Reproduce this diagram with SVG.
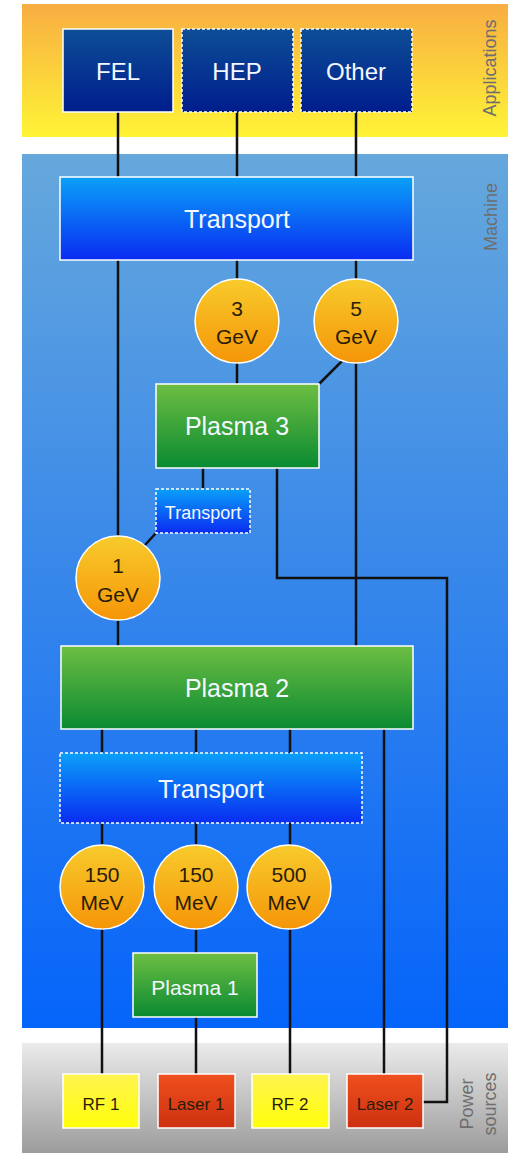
<svg xmlns="http://www.w3.org/2000/svg" width="508" height="1153" viewBox="0 0 508 1153">
  <style>
    .lbl { font-family: "Liberation Sans", Arial, sans-serif; fill: #f4f8ff; text-anchor: middle; }
    .dk { font-family: "Liberation Sans", Arial, sans-serif; fill: #2a1c05; text-anchor: middle; }
    .band { font-family: "Liberation Sans", Arial, sans-serif; fill: #6e6e6e; text-anchor: middle; font-size: 18px; }
    .edge { fill: none; stroke: #111; stroke-width: 2.5; }
    .solid { stroke: #ffffff; stroke-width: 1.5; }
    .dash { stroke: #ffffff; stroke-width: 1.5; stroke-dasharray: 3 2; }
  </style>
  <defs>
    <linearGradient id="gApps" x1="0" y1="0" x2="0" y2="1">
      <stop offset="0" stop-color="#f8ad42"/>
      <stop offset="1" stop-color="#fff436"/>
    </linearGradient>
    <linearGradient id="gMachine" x1="0" y1="0" x2="0" y2="1">
      <stop offset="0" stop-color="#66a8dc"/>
      <stop offset="1" stop-color="#0564fa"/>
    </linearGradient>
    <linearGradient id="gPower" x1="0" y1="0" x2="0" y2="1">
      <stop offset="0" stop-color="#ebebeb"/>
      <stop offset="1" stop-color="#9c9c9c"/>
    </linearGradient>
    <linearGradient id="gNavy" x1="0" y1="0" x2="0" y2="1">
      <stop offset="0" stop-color="#0d4e96"/>
      <stop offset="1" stop-color="#001d8c"/>
    </linearGradient>
    <linearGradient id="gBlue" x1="0" y1="0" x2="0" y2="1">
      <stop offset="0" stop-color="#0aa0f8"/>
      <stop offset="1" stop-color="#0a2cf2"/>
    </linearGradient>
    <linearGradient id="gGreen" x1="0" y1="0" x2="0" y2="1">
      <stop offset="0" stop-color="#6dbe42"/>
      <stop offset="1" stop-color="#0a8a32"/>
    </linearGradient>
    <linearGradient id="gOrange" x1="0" y1="0" x2="0" y2="1">
      <stop offset="0" stop-color="#f8cb2c"/>
      <stop offset="1" stop-color="#f59508"/>
    </linearGradient>
    <linearGradient id="gYellow" x1="0" y1="0" x2="0" y2="1">
      <stop offset="0" stop-color="#fff350"/>
      <stop offset="1" stop-color="#ffff0a"/>
    </linearGradient>
    <linearGradient id="gRed" x1="0" y1="0" x2="0" y2="1">
      <stop offset="0" stop-color="#f0501e"/>
      <stop offset="1" stop-color="#cc3010"/>
    </linearGradient>
  </defs>

  <rect width="508" height="1153" fill="#ffffff"/>

  <!-- layer bands -->
  <g id="bands">
    <rect x="22" y="4" width="486" height="133" fill="url(#gApps)"/>
    <rect x="22" y="154" width="486" height="874" fill="url(#gMachine)"/>
    <rect x="22" y="1043" width="486" height="110" fill="url(#gPower)"/>
    <text class="band" transform="translate(496 68) rotate(-90)">Applications</text>
    <text class="band" transform="translate(497 217) rotate(-90)">Machine</text>
    <text class="band" transform="translate(473 1104) rotate(-90)">Power</text>
    <text class="band" transform="translate(496 1104) rotate(-90)">sources</text>
  </g>

  <!-- connectors -->
  <g id="connectors">
    <line class="edge" x1="118" y1="112" x2="118" y2="536"/>
    <line class="edge" x1="237" y1="112" x2="237" y2="384"/>
    <line class="edge" x1="356" y1="112" x2="356" y2="646"/>
    <line class="edge" x1="342" y1="361" x2="319" y2="384"/>
    <line class="edge" x1="203" y1="468" x2="203" y2="489"/>
    <line class="edge" x1="156" y1="533" x2="145" y2="545"/>
    <polyline class="edge" points="277,468 277,578 447,578 447,1102 423,1102"/>
    <line class="edge" x1="118" y1="620" x2="118" y2="646"/>
    <line class="edge" x1="102" y1="729" x2="102" y2="1074"/>
    <line class="edge" x1="196" y1="729" x2="196" y2="1074"/>
    <line class="edge" x1="290" y1="729" x2="290" y2="1074"/>
    <line class="edge" x1="384" y1="729" x2="384" y2="1074"/>
  </g>

  <!-- applications -->
  <g id="fel">
    <rect class="solid" x="63" y="29" width="110" height="83" fill="url(#gNavy)"/>
    <text class="lbl" x="118" y="80" font-size="24">FEL</text>
  </g>
  <g id="hep">
    <rect class="dash" x="182" y="29" width="111" height="83" fill="url(#gNavy)"/>
    <text class="lbl" x="237" y="80" font-size="24">HEP</text>
  </g>
  <g id="other">
    <rect class="dash" x="301" y="29" width="111" height="83" fill="url(#gNavy)"/>
    <text class="lbl" x="356" y="80" font-size="24">Other</text>
  </g>

  <!-- machine -->
  <g id="transport-top">
    <rect class="solid" x="60" y="177" width="353" height="83" fill="url(#gBlue)"/>
    <text class="lbl" x="237" y="228" font-size="25">Transport</text>
  </g>
  <g id="gev3">
    <circle class="solid" cx="237" cy="321" r="42" fill="url(#gOrange)"/>
    <text class="dk" x="237" y="316" font-size="21">3</text>
    <text class="dk" x="237" y="344" font-size="21">GeV</text>
  </g>
  <g id="gev5">
    <circle class="solid" cx="356" cy="321" r="42" fill="url(#gOrange)"/>
    <text class="dk" x="356" y="316" font-size="21">5</text>
    <text class="dk" x="356" y="344" font-size="21">GeV</text>
  </g>
  <g id="plasma3">
    <rect class="solid" x="156" y="384" width="163" height="84" fill="url(#gGreen)"/>
    <text class="lbl" x="237" y="435" font-size="25">Plasma 3</text>
  </g>
  <g id="transport-small">
    <rect class="dash" x="156" y="489" width="94" height="44" fill="url(#gBlue)"/>
    <text class="lbl" x="203" y="519" font-size="18">Transport</text>
  </g>
  <g id="gev1">
    <circle class="solid" cx="118" cy="578" r="42" fill="url(#gOrange)"/>
    <text class="dk" x="118" y="573" font-size="21">1</text>
    <text class="dk" x="118" y="602" font-size="21">GeV</text>
  </g>
  <g id="plasma2">
    <rect class="solid" x="61" y="646" width="352" height="83" fill="url(#gGreen)"/>
    <text class="lbl" x="237" y="697" font-size="25">Plasma 2</text>
  </g>
  <g id="transport-low">
    <rect class="dash" x="60" y="753" width="302" height="70" fill="url(#gBlue)"/>
    <text class="lbl" x="211" y="798" font-size="25">Transport</text>
  </g>
  <g id="mev150a">
    <circle class="solid" cx="102" cy="887" r="42" fill="url(#gOrange)"/>
    <text class="dk" x="102" y="882" font-size="21">150</text>
    <text class="dk" x="102" y="910" font-size="21">MeV</text>
  </g>
  <g id="mev150b">
    <circle class="solid" cx="196" cy="887" r="42" fill="url(#gOrange)"/>
    <text class="dk" x="196" y="882" font-size="21">150</text>
    <text class="dk" x="196" y="910" font-size="21">MeV</text>
  </g>
  <g id="mev500">
    <circle class="solid" cx="289" cy="887" r="42" fill="url(#gOrange)"/>
    <text class="dk" x="289" y="882" font-size="21">500</text>
    <text class="dk" x="289" y="910" font-size="21">MeV</text>
  </g>
  <g id="plasma1">
    <rect class="solid" x="133" y="953" width="124" height="64" fill="url(#gGreen)"/>
    <text class="lbl" x="195" y="995" font-size="21">Plasma 1</text>
  </g>

  <!-- power sources -->
  <g id="rf1">
    <rect class="solid" x="63" y="1074" width="76" height="54" fill="url(#gYellow)"/>
    <text class="dk" x="101" y="1110" font-size="17">RF 1</text>
  </g>
  <g id="laser1">
    <rect class="solid" x="158" y="1074" width="77" height="54" fill="url(#gRed)"/>
    <text class="dk" x="196" y="1110" font-size="17">Laser 1</text>
  </g>
  <g id="rf2">
    <rect class="solid" x="252" y="1074" width="77" height="54" fill="url(#gYellow)"/>
    <text class="dk" x="290" y="1110" font-size="17">RF 2</text>
  </g>
  <g id="laser2">
    <rect class="solid" x="347" y="1074" width="76" height="54" fill="url(#gRed)"/>
    <text class="dk" x="385" y="1110" font-size="17">Laser 2</text>
  </g>
</svg>
